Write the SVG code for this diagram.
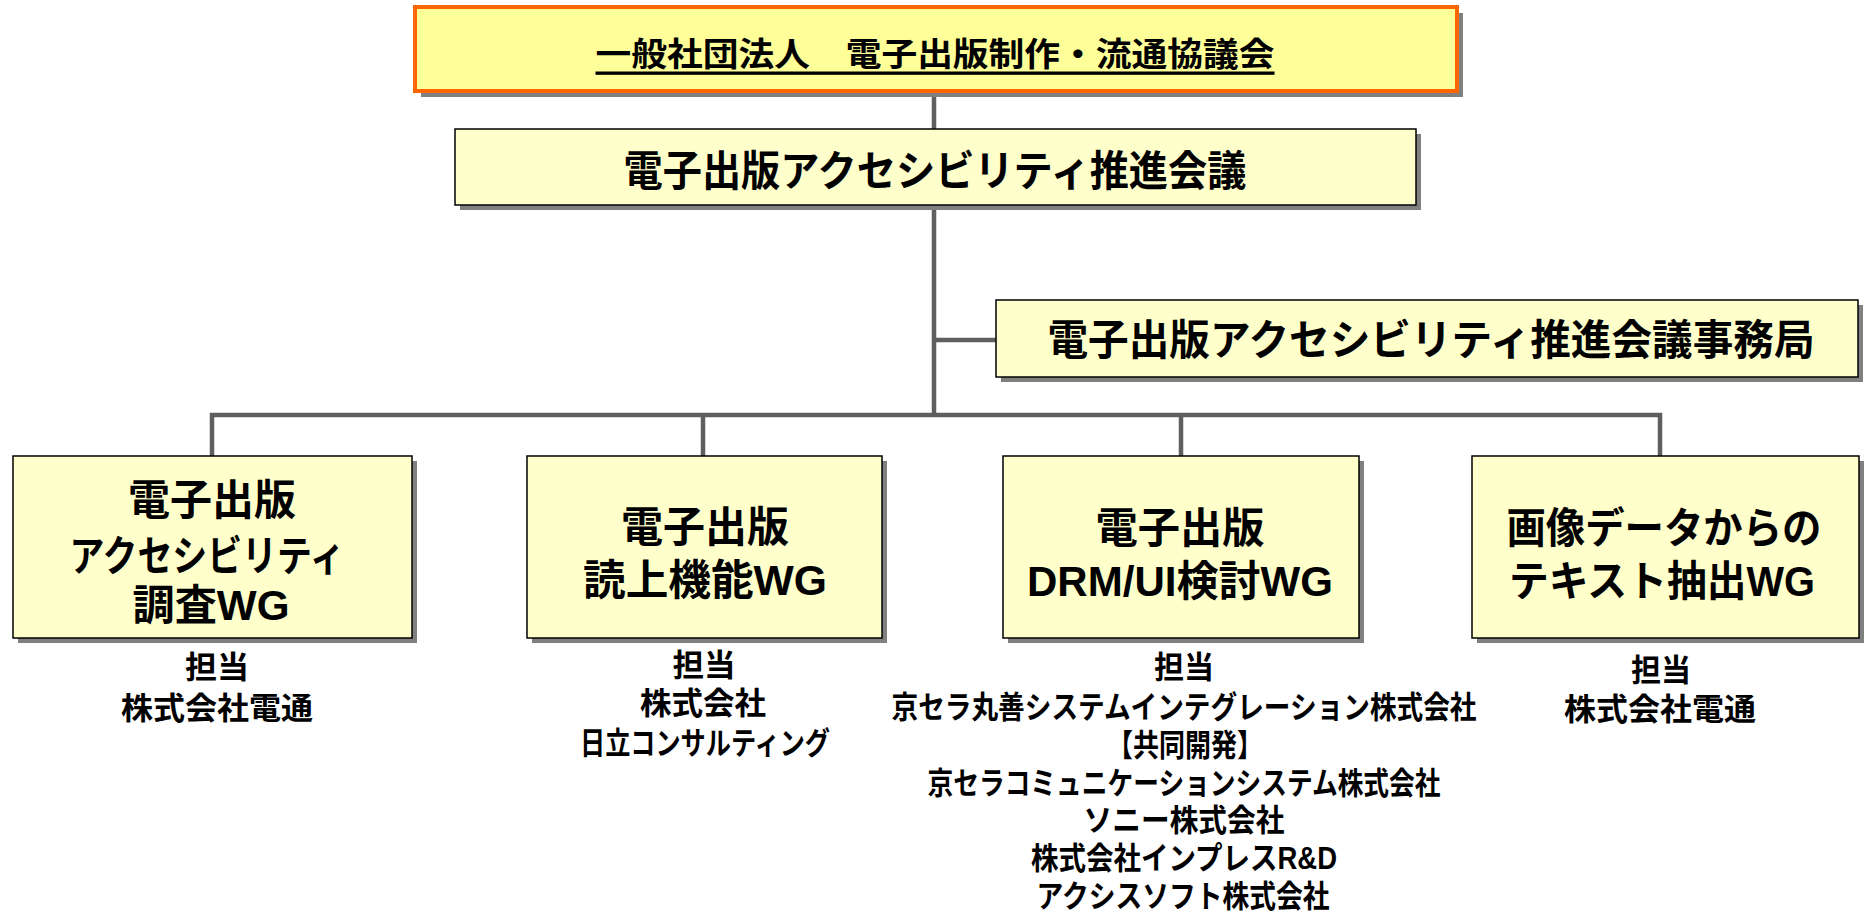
<svg xmlns="http://www.w3.org/2000/svg" width="1869" height="911" viewBox="0 0 1869 911">
<style>
.shadow{fill:#808080}
.box{fill:#FFFFCC;stroke:#000;stroke-width:1.5}
.top{fill:#FFFF99;stroke:#FF6600;stroke-width:4}
text{font-family:"Liberation Sans","Noto Sans CJK JP",sans-serif;font-weight:bold;fill:#000;text-anchor:middle;dominant-baseline:central}
.t1{font-size:42px}
.t2{font-size:31px}
.tt{font-size:33px;text-decoration:underline}
.conn{stroke:#5f5f5f;stroke-width:4.5;fill:none}
</style>
<rect width="1869" height="911" fill="#fff"/>
<g id="connectors">
<line class="conn" x1="934" y1="91" x2="934" y2="129"/>
<line class="conn" x1="934" y1="205" x2="934" y2="417"/>
<line class="conn" x1="934" y1="340" x2="996" y2="340"/>
<polyline class="conn" points="212,456 212,415 1660,415 1660,456"/>
<line class="conn" x1="703" y1="415" x2="703" y2="456"/>
<line class="conn" x1="1181" y1="415" x2="1181" y2="456"/>
</g>
<g id="council">
<rect class="shadow" x="421" y="13" width="1042" height="84"/>
<rect class="top" x="415" y="7" width="1042" height="84"/>
<text class="tt" x="935" y="54" textLength="679" lengthAdjust="spacingAndGlyphs">一般社団法人　電子出版制作・流通協議会</text>
</g>
<g id="promotion">
<rect class="shadow" x="460" y="134" width="961" height="76"/>
<rect class="box" x="455" y="129" width="961" height="76"/>
<text class="t1" x="935" y="171" textLength="623" lengthAdjust="spacingAndGlyphs">電子出版アクセシビリティ推進会議</text>
</g>
<g id="secretariat">
<rect class="shadow" x="1001" y="305" width="862" height="77"/>
<rect class="box" x="996" y="300" width="862" height="77"/>
<text class="t1" x="1431" y="340" textLength="767" lengthAdjust="spacingAndGlyphs">電子出版アクセシビリティ推進会議事務局</text>
</g>
<g id="wg1">
<rect class="shadow" x="18" y="461" width="399" height="182"/>
<rect class="box" x="13" y="456" width="399" height="182"/>
<text class="t1" x="212" y="500" textLength="168" lengthAdjust="spacingAndGlyphs">電子出版</text>
<text class="t1" x="207" y="556" textLength="275" lengthAdjust="spacingAndGlyphs">アクセシビリティ</text>
<text class="t1" x="211" y="605" textLength="157" lengthAdjust="spacingAndGlyphs">調査WG</text>
<text class="t2" x="217" y="667" textLength="64" lengthAdjust="spacingAndGlyphs">担当</text>
<text class="t2" x="217" y="708" textLength="192" lengthAdjust="spacingAndGlyphs">株式会社電通</text>
</g>
<g id="wg2">
<rect class="shadow" x="532" y="461" width="355" height="182"/>
<rect class="box" x="527" y="456" width="355" height="182"/>
<text class="t1" x="705" y="527" textLength="168" lengthAdjust="spacingAndGlyphs">電子出版</text>
<text class="t1" x="705" y="580" textLength="244" lengthAdjust="spacingAndGlyphs">読上機能WG</text>
<text class="t2" x="704" y="665" textLength="63" lengthAdjust="spacingAndGlyphs">担当</text>
<text class="t2" x="703" y="703" textLength="126" lengthAdjust="spacingAndGlyphs">株式会社</text>
<text class="t2" x="705" y="743" textLength="250" lengthAdjust="spacingAndGlyphs">日立コンサルティング</text>
</g>
<g id="wg3">
<rect class="shadow" x="1008" y="461" width="356" height="182"/>
<rect class="box" x="1003" y="456" width="356" height="182"/>
<text class="t1" x="1180" y="528" textLength="169" lengthAdjust="spacingAndGlyphs">電子出版</text>
<text class="t1" x="1180" y="581" textLength="306" lengthAdjust="spacingAndGlyphs">DRM/UI検討WG</text>
<text class="t2" x="1184" y="667" textLength="60" lengthAdjust="spacingAndGlyphs">担当</text>
<text class="t2" x="1184" y="707" textLength="585" lengthAdjust="spacingAndGlyphs">京セラ丸善システムインテグレーション株式会社</text>
<text class="t2" x="1185" y="745" textLength="156" lengthAdjust="spacingAndGlyphs">【共同開発】</text>
<text class="t2" x="1184" y="783" textLength="513" lengthAdjust="spacingAndGlyphs">京セラコミュニケーションシステム株式会社</text>
<text class="t2" x="1184" y="820" textLength="201" lengthAdjust="spacingAndGlyphs">ソニー株式会社</text>
<text class="t2" x="1184" y="858" textLength="306" lengthAdjust="spacingAndGlyphs">株式会社インプレスR&amp;D</text>
<text class="t2" x="1183" y="896" textLength="293" lengthAdjust="spacingAndGlyphs">アクシスソフト株式会社</text>
</g>
<g id="wg4">
<rect class="shadow" x="1477" y="461" width="387" height="182"/>
<rect class="box" x="1472" y="456" width="387" height="182"/>
<text class="t1" x="1664" y="528" textLength="315" lengthAdjust="spacingAndGlyphs">画像データからの</text>
<text class="t1" x="1662" y="581" textLength="306" lengthAdjust="spacingAndGlyphs">テキスト抽出WG</text>
<text class="t2" x="1661" y="670" textLength="60" lengthAdjust="spacingAndGlyphs">担当</text>
<text class="t2" x="1660" y="709" textLength="192" lengthAdjust="spacingAndGlyphs">株式会社電通</text>
</g>
</svg>
